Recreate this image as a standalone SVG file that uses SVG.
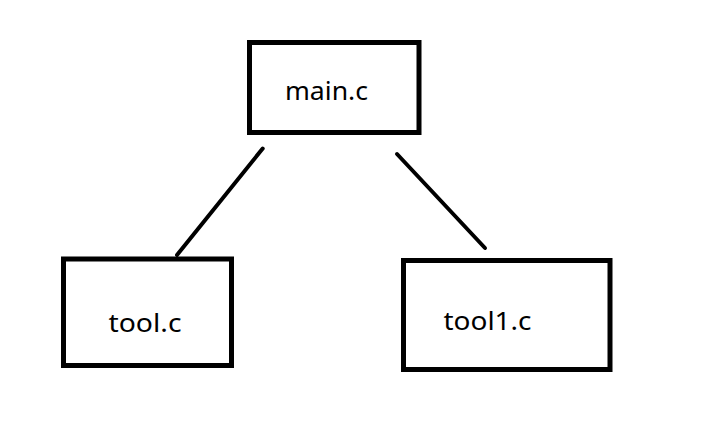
<svg xmlns="http://www.w3.org/2000/svg" width="726" height="423" viewBox="0 0 726 423">
<style>
.box{fill:#fff;stroke:#000;stroke-width:5}
.lbl{font-family:"Noto Sans","Open Sans",sans-serif;font-size:26px;fill:#000}
.edge{stroke:#000;stroke-width:4;stroke-linecap:round;fill:none}
</style>
<rect width="726" height="423" fill="#fff"/>
<g id="connectors">
<line class="edge" x1="262.7" y1="148.5" x2="177" y2="255"/>
<line class="edge" x1="397" y1="154" x2="485" y2="248"/>
</g>
<g id="main">
<rect class="box" x="249.5" y="42.5" width="169.5" height="90"/>
<text class="lbl" x="285" y="100" textLength="83" lengthAdjust="spacingAndGlyphs">main.c</text>
</g>
<g id="tool">
<rect class="box" x="63.5" y="259" width="168" height="106.5"/>
<text class="lbl" x="108.5" y="331.5" textLength="73" lengthAdjust="spacingAndGlyphs">tool.c</text>
</g>
<g id="tool1">
<rect class="box" x="403.5" y="260.5" width="206.5" height="109"/>
<text class="lbl" x="443.5" y="330" textLength="88" lengthAdjust="spacingAndGlyphs">tool1.c</text>
</g>
</svg>
